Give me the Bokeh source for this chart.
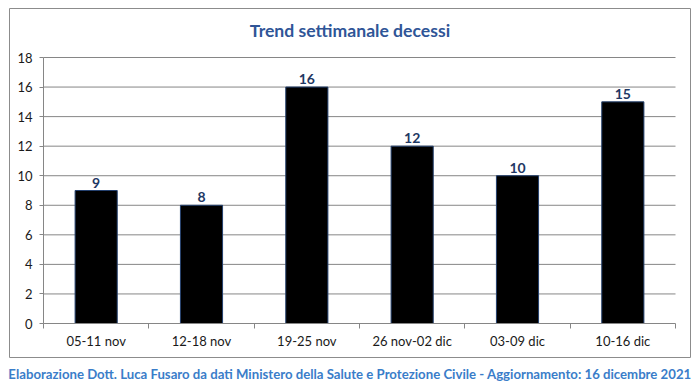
from bokeh.plotting import figure
from bokeh.models import FixedTicker, Title, ColumnDataSource, LabelSet, Label, LinearAxis
from bokeh.core.properties import value
from bokeh.embed import file_html
from bokeh.resources import INLINE

categories = ["05-11 nov", "12-18 nov", "19-25 nov", "26 nov-02 dic", "03-09 dic", "10-16 dic"]
decessi = [9, 8, 16, 12, 10, 15]
y_ticks = [0, 2, 4, 6, 8, 10, 12, 14, 16, 18]
title_text = "Trend settimanale decessi"
footer_text = ("Elaborazione Dott. Luca Fusaro da dati Ministero della Salute e Protezione Civile"
               " - Aggiornamento: 16 dicembre 2021")

FONT = "Lato"
GREY = "#868686"
n = len(categories)
ymax = y_ticks[-1]
xs = [i + 0.5 for i in range(n)]
src = ColumnDataSource(dict(x=xs, top=decessi, label=[str(v) for v in decessi]))
grid_src = ColumnDataSource(dict(y=y_ticks[1:], x0=[0] * (len(y_ticks) - 1),
                                 x1=[n] * (len(y_ticks) - 1)))

# frame = outer chart box; plot area sits inside it (pixel layout -> range padding)
W, H = 699, 392
box_l, box_r, box_t, box_b = 9, 690, 8, 357
area_l, area_r, area_t, area_b = 43, 675, 57, 323
xu = (area_r - area_l) / n
yu = (area_b - area_t) / ymax
x_range = (-(area_l - box_l) / xu, n + (box_r - area_r) / xu)
y_range = (-(box_b - area_b) / yu, ymax + (area_t - box_t) / yu)

p = figure(width=W, height=H, x_range=x_range, y_range=y_range,
           output_backend="svg", toolbar_location=None,
           x_axis_location=None, y_axis_location=None,
           min_border_left=box_l, min_border_right=W - box_r,
           min_border_top=box_t, min_border_bottom=H - box_b)
p.outline_line_color = "#8c8c8c"
p.outline_line_width = 1
p.background_fill_color = "white"
p.border_fill_color = "white"
p.xgrid.visible = False
p.ygrid.visible = False

p.segment(x0="x0", x1="x1", y0="y", y1="y", source=grid_src, line_color=GREY, line_width=1)

p.vbar(x="x", top="top", width=0.4, source=src, fill_color="black",
       line_color="#24406e", line_width=1)

labels = LabelSet(x="x", y="top", text="label", source=src, y_offset=3,
                  text_align="center", text_baseline="alphabetic",
                  text_font=value(FONT), text_font_style="bold",
                  text_font_size="14px", text_color="#1F3864")
p.add_layout(labels)

# x axis
xa = LinearAxis(fixed_location=0, bounds=(0, n))
xa.ticker = FixedTicker(ticks=xs, minor_ticks=list(range(n + 1)))
xa.major_label_overrides = {x: c for x, c in zip(xs, categories)}
xa.major_tick_out = 0
xa.major_tick_in = 0
xa.minor_tick_out = 5
xa.minor_tick_in = 0
xa.minor_tick_line_color = GREY
xa.axis_line_color = GREY
xa.major_label_standoff = 4
xa.major_label_text_font = FONT
xa.major_label_text_font_size = "13px"
xa.major_label_text_color = "#1a1a1a"
p.add_layout(xa, "below")

# y axis
ya = LinearAxis(fixed_location=0, bounds=(0, ymax))
ya.ticker = FixedTicker(ticks=y_ticks, minor_ticks=[])
ya.major_tick_out = 4
ya.major_tick_in = 0
ya.major_tick_line_color = GREY
ya.axis_line_color = GREY
ya.major_label_standoff = 7
ya.major_label_text_font = FONT
ya.major_label_text_font_size = "13px"
ya.major_label_text_color = "#1a1a1a"
p.add_layout(ya, "left")

# chart title inside the box
title = Label(x=sum(x_range) / 2, y=y_range[1], y_offset=-22, text=title_text,
              text_align="center", text_baseline="middle",
              text_font=FONT, text_font_style="bold",
              text_font_size="17.6px", text_color="#2F5597")
p.add_layout(title)

f = Title(text=footer_text, align="center", text_font=FONT, text_font_style="bold",
          text_font_size="13.2px", text_color="#3A7DC9", standoff=12)
p.add_layout(f, "below")

open("out.html", "w").write(file_html(p, INLINE))
